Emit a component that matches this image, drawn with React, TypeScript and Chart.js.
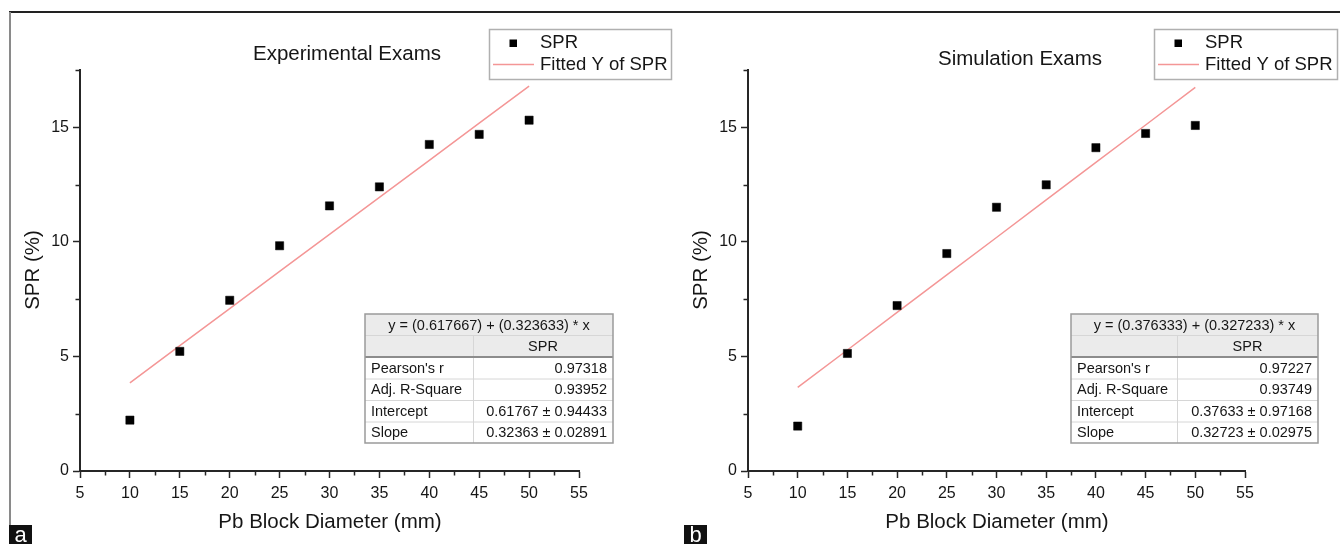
import React, { useEffect, useRef } from 'react';
import { Chart, registerables } from 'chart.js';

Chart.register(...registerables);

// ---------- data ----------
const pbDiameters = [10, 15, 20, 25, 30, 35, 40, 45, 50];
const sprExperimental = [2.22, 5.22, 7.45, 9.83, 11.57, 12.4, 14.25, 14.69, 15.31];
const fittedExperimental = [3.85, 5.47, 7.09, 8.71, 10.33, 11.94, 13.56, 15.18, 16.8];
const sprSimulation = [1.96, 5.13, 7.22, 9.49, 11.51, 12.49, 14.11, 14.73, 15.08];
const fittedSimulation = [3.65, 5.28, 6.92, 8.56, 10.19, 11.83, 13.47, 15.1, 16.74];

const xMin = 5;
const xMax = 55;
const yMin = 0;
const yMax = 17.5;
const minorStep = 2.5;
const majorStep = 5;

const legendLabels = ['SPR', 'Fitted Y of SPR'];
const xAxisTitle = 'Pb Block Diameter (mm)';
const yAxisTitle = 'SPR (%)';

const expTitle = 'Experimental Exams';
const expEquation = 'y = (0.617667) + (0.323633) * x';
const expRowLabels = ["Pearson's r", 'Adj. R-Square', 'Intercept', 'Slope'];
const expRowValues = ['0.97318', '0.93952', '0.61767 ± 0.94433', '0.32363 ± 0.02891'];

const simTitle = 'Simulation Exams';
const simEquation = 'y = (0.376333) + (0.327233) * x';
const simRowLabels = ["Pearson's r", 'Adj. R-Square', 'Intercept', 'Slope'];
const simRowValues = ['0.97227', '0.93749', '0.37633 ± 0.97168', '0.32723 ± 0.02975'];

// ---------- styles ----------
const FONT = '"Liberation Sans", Arial, sans-serif';
const TEXT = '#161616';
const AXIS = '#262626';
const FIT = 'rgb(244,150,150)';
const W = 1340;
const H = 544;

type Panel = {
  letter: string;
  title: string;
  titleX: number;
  titleY: number;
  yTitleX: number;
  xTitleX: number;
  xTitleY: number;
  legendX: number;
  legendY: number;
  legendW: number;
  legendH: number;
  tableX: number;
  tableY: number;
  tableW: number;
  tableColX: number;
  equation: string;
  rowLabels: string[];
  rowValues: string[];
  letterX: number;
  padLeft: number;
  padRight: number;
  points: number[];
  fitted: number[];
};

const panels: Panel[] = [
  {
    letter: 'a',
    title: expTitle,
    titleX: 347,
    titleY: 54,
    yTitleX: 33,
    xTitleX: 330,
    xTitleY: 522,
    legendX: 489,
    legendY: 29,
    legendW: 182,
    legendH: 50,
    tableX: 365,
    tableY: 314,
    tableW: 248,
    tableColX: 473,
    equation: expEquation,
    rowLabels: expRowLabels,
    rowValues: expRowValues,
    letterX: 9,
    padLeft: 0,
    padRight: W - 579,
    points: sprExperimental,
    fitted: fittedExperimental,
  },
  {
    letter: 'b',
    title: simTitle,
    titleX: 1020,
    titleY: 59,
    yTitleX: 701,
    xTitleX: 997,
    xTitleY: 522,
    legendX: 1154,
    legendY: 29,
    legendW: 183,
    legendH: 50,
    tableX: 1071,
    tableY: 314,
    tableW: 247,
    tableColX: 1177,
    equation: simEquation,
    rowLabels: simRowLabels,
    rowValues: simRowValues,
    letterX: 684,
    padLeft: 668,
    padRight: W - 1245,
    points: sprSimulation,
    fitted: fittedSimulation,
  },
];

function isMajor(v: number | undefined) {
  if (v === undefined || v === null) return false;
  return Math.abs(v / majorStep - Math.round(v / majorStep)) < 1e-6;
}

function makePanelPlugin(p: Panel) {
  return {
    id: 'panel_' + p.letter,
    afterDraw(chart: any) {
      const ctx: CanvasRenderingContext2D = chart.ctx;
      const area = chart.chartArea;
      const xs = chart.scales.x;
      const ys = chart.scales.y;
      ctx.save();

      // minor ticks
      ctx.strokeStyle = AXIS;
      ctx.lineWidth = 1.5;
      for (const t of xs.ticks) {
        if (isMajor(t.value)) continue;
        const px = Math.round(xs.getPixelForValue(t.value)) + 0.5;
        ctx.beginPath();
        ctx.moveTo(px, area.bottom);
        ctx.lineTo(px, area.bottom + 4.5);
        ctx.stroke();
      }
      for (const t of ys.ticks) {
        if (isMajor(t.value)) continue;
        const py = Math.round(ys.getPixelForValue(t.value)) + 0.5;
        ctx.beginPath();
        ctx.moveTo(area.left, py);
        ctx.lineTo(area.left - 4.5, py);
        ctx.stroke();
      }

      // title
      ctx.fillStyle = TEXT;
      ctx.font = `20.5px ${FONT}`;
      ctx.textAlign = 'center';
      ctx.textBaseline = 'middle';
      ctx.fillText(p.title, p.titleX, p.titleY);

      // axis titles
      ctx.font = `20.5px ${FONT}`;
      ctx.fillText(xAxisTitle, p.xTitleX, p.xTitleY);
      ctx.save();
      ctx.translate(p.yTitleX, 270);
      ctx.rotate(-Math.PI / 2);
      ctx.fillText(yAxisTitle, 0, 0);
      ctx.restore();

      // legend
      ctx.fillStyle = '#ffffff';
      ctx.fillRect(p.legendX, p.legendY, p.legendW, p.legendH);
      ctx.strokeStyle = '#b0b0b0';
      ctx.lineWidth = 1.5;
      ctx.strokeRect(p.legendX + 0.5, p.legendY + 0.5, p.legendW, p.legendH);
      ctx.fillStyle = '#000000';
      ctx.fillRect(p.legendX + 24 - 3.5, 43 - 3.5, 7.5, 7.5);
      ctx.strokeStyle = FIT;
      ctx.lineWidth = 1.5;
      ctx.beginPath();
      ctx.moveTo(p.legendX + 4, 64.5);
      ctx.lineTo(p.legendX + 45, 64.5);
      ctx.stroke();
      ctx.fillStyle = TEXT;
      ctx.font = `18.5px ${FONT}`;
      ctx.textAlign = 'left';
      ctx.fillText(legendLabels[0], p.legendX + 51, 43);
      ctx.fillText(legendLabels[1], p.legendX + 51, 65);

      // table
      const tx = p.tableX;
      const ty = p.tableY;
      const tw = p.tableW;
      const rowsY = [ty, ty + 21, ty + 43, ty + 64.5, ty + 86, ty + 107.5, ty + 129];
      ctx.fillStyle = '#ffffff';
      ctx.fillRect(tx, ty, tw, 129);
      ctx.fillStyle = '#ebebeb';
      ctx.fillRect(tx, rowsY[0], tw, rowsY[2] - rowsY[0]);
      ctx.strokeStyle = '#d6d6d6';
      ctx.lineWidth = 1;
      for (let i = 1; i < rowsY.length - 1; i++) {
        if (i === 2) continue;
        ctx.beginPath();
        ctx.moveTo(tx, rowsY[i] + 0.5);
        ctx.lineTo(tx + tw, rowsY[i] + 0.5);
        ctx.stroke();
      }
      ctx.beginPath();
      ctx.moveTo(p.tableColX + 0.5, rowsY[1]);
      ctx.lineTo(p.tableColX + 0.5, rowsY[6]);
      ctx.stroke();
      ctx.strokeStyle = '#8c8c8c';
      ctx.lineWidth = 2;
      ctx.beginPath();
      ctx.moveTo(tx, rowsY[2]);
      ctx.lineTo(tx + tw, rowsY[2]);
      ctx.stroke();
      ctx.strokeStyle = '#9a9a9a';
      ctx.lineWidth = 1.5;
      ctx.strokeRect(tx, ty, tw, 129);

      ctx.fillStyle = TEXT;
      ctx.font = `14.5px ${FONT}`;
      ctx.textAlign = 'center';
      ctx.fillText(p.equation, tx + tw / 2, (rowsY[0] + rowsY[1]) / 2 + 1);
      ctx.fillText(legendLabels[0], (p.tableColX + tx + tw) / 2, (rowsY[1] + rowsY[2]) / 2 + 1);
      for (let i = 0; i < p.rowLabels.length; i++) {
        const cy = (rowsY[i + 2] + rowsY[i + 3]) / 2 + 1;
        ctx.textAlign = 'left';
        ctx.fillText(p.rowLabels[i], tx + 6, cy);
        ctx.textAlign = 'right';
        ctx.fillText(p.rowValues[i], tx + tw - 6, cy);
      }

      // panel letter
      ctx.fillStyle = '#111111';
      ctx.fillRect(p.letterX, 525, 23, 19);
      ctx.fillStyle = '#ffffff';
      ctx.font = `22px ${FONT}`;
      ctx.textAlign = 'center';
      ctx.textBaseline = 'alphabetic';
      ctx.fillText(p.letter, p.letterX + 11.5, 542);

      ctx.restore();
    },
  };
}

function makeConfig(p: Panel): any {
  return {
    type: 'scatter',
    data: {
      datasets: [
        {
          label: legendLabels[0],
          data: pbDiameters.map((x, i) => ({ x, y: p.points[i] })),
          pointStyle: 'rect',
          pointRadius: 5.8,
          pointHoverRadius: 5.8,
          backgroundColor: '#000000',
          borderColor: '#000000',
          borderWidth: 0.5,
        },
        {
          label: legendLabels[1],
          data: pbDiameters.map((x, i) => ({ x, y: p.fitted[i] })),
          showLine: true,
          pointRadius: 0,
          borderColor: FIT,
          borderWidth: 1.5,
          backgroundColor: FIT,
        },
      ],
    },
    options: {
      responsive: false,
      animation: false,
      devicePixelRatio: 1,
      events: [],
      layout: {
        padding: { left: p.padLeft, right: p.padRight, top: 70, bottom: 0 },
      },
      plugins: {
        legend: { display: false },
        title: { display: false },
        tooltip: { enabled: false },
      },
      scales: {
        x: {
          type: 'linear',
          min: xMin,
          max: xMax,
          afterFit: (s: any) => {
            s.height = H - 471;
          },
          border: { display: true, color: AXIS, width: 2 },
          grid: {
            drawOnChartArea: false,
            drawTicks: true,
            tickLength: 7,
            tickWidth: 1.5,
            tickColor: (c: any) => (isMajor(c.tick?.value) ? AXIS : 'rgba(0,0,0,0)'),
          },
          ticks: {
            stepSize: minorStep,
            autoSkip: false,
            maxRotation: 0,
            padding: 6,
            color: TEXT,
            font: { family: FONT, size: 16 },
            callback: (v: any) => (isMajor(Number(v)) ? String(v) : ''),
          },
        },
        y: {
          type: 'linear',
          min: yMin,
          max: yMax,
          afterFit: (s: any) => {
            s.width = 80;
          },
          border: { display: true, color: AXIS, width: 2 },
          grid: {
            drawOnChartArea: false,
            drawTicks: true,
            tickLength: 7,
            tickWidth: 1.5,
            tickColor: (c: any) => (isMajor(c.tick?.value) ? AXIS : 'rgba(0,0,0,0)'),
          },
          ticks: {
            stepSize: minorStep,
            autoSkip: false,
            padding: 4,
            color: TEXT,
            font: { family: FONT, size: 16 },
            callback: (v: any) => (isMajor(Number(v)) ? String(v) : ''),
          },
        },
      },
    },
    plugins: [makePanelPlugin(p)],
  };
}

export default function App() {
  const refA = useRef<HTMLCanvasElement>(null);
  const refB = useRef<HTMLCanvasElement>(null);

  useEffect(() => {
    document.body.style.margin = '0';
    document.body.style.background = '#ffffff';
    const charts: Chart[] = [];
    const refs = [refA, refB];
    panels.forEach((p, i) => {
      const c = refs[i].current;
      if (c) charts.push(new Chart(c, makeConfig(p)));
    });
    return () => charts.forEach((c) => c.destroy());
  }, []);

  const canvasStyle: React.CSSProperties = {
    position: 'absolute',
    left: 0,
    top: 0,
    width: W,
    height: H,
  };

  return (
    <div style={{ position: 'relative', width: W, height: H, background: '#fff', overflow: 'hidden' }}>
      <div style={{ position: 'absolute', left: 9, top: 11, width: W - 9, height: 1.5, background: '#222' }} />
      <div style={{ position: 'absolute', left: 9, top: 12, width: 2, height: H - 12, background: '#8a8a8a' }} />
      <canvas ref={refA} width={W} height={H} style={canvasStyle} />
      <canvas ref={refB} width={W} height={H} style={canvasStyle} />
    </div>
  );
}
